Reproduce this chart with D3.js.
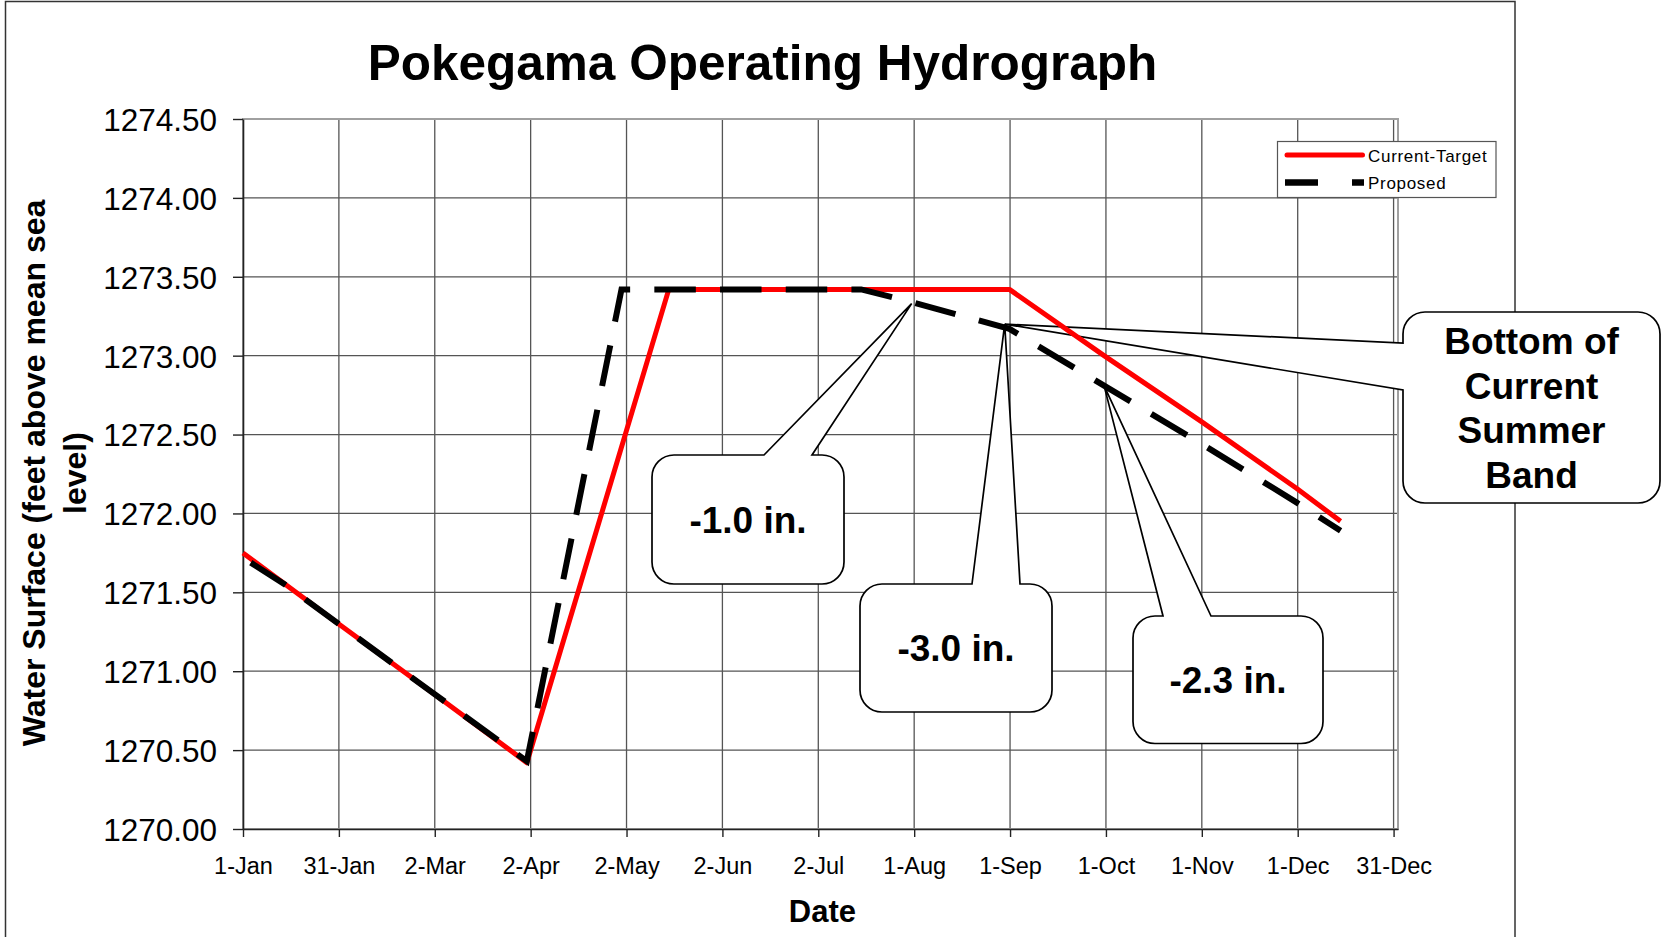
<!DOCTYPE html>
<html><head><meta charset="utf-8">
<script src="https://cdn.jsdelivr.net/npm/d3@7"></script>
<style>html,body{margin:0;padding:0;background:#fff;} svg{display:block;font-family:"Liberation Sans",Arial,Helvetica,sans-serif;}</style>
</head><body>
<svg id="chart" width="1665" height="937"></svg>
<script>
// ---------------- data ----------------
const chartTitle = "Pokegama Operating Hydrograph";
const xAxisTitle = "Date";
const yAxisTitleLines = ["Water Surface (feet above mean sea", "level)"];
const seriesNames = ["Current-Target", "Proposed"];

const currentDates  = ["2007-01-01","2007-02-01","2007-03-01","2007-04-01","2007-05-16","2007-09-01","2007-10-01","2007-11-01","2007-12-01","2007-12-15"];
const currentValues = [1271.75, 1271.29, 1270.88, 1270.42, 1273.42, 1273.42, 1273.00, 1272.58, 1272.16, 1271.95];

const proposedDates  = ["2007-01-01","2007-01-15","2007-02-01","2007-03-01","2007-04-01","2007-05-01","2007-07-16","2007-08-01","2007-09-01","2007-10-01","2007-11-01","2007-12-01","2007-12-15"];
const proposedValues = [1271.72, 1271.54, 1271.29, 1270.88, 1270.43, 1273.42, 1273.42, 1273.34, 1273.17, 1272.81, 1272.44, 1272.07, 1271.89];

const xTickLabels = ["1-Jan","31-Jan","2-Mar","2-Apr","2-May","2-Jun","2-Jul","1-Aug","1-Sep","1-Oct","1-Nov","1-Dec","31-Dec"];
const yTickValues = [1270.00,1270.50,1271.00,1271.50,1272.00,1272.50,1273.00,1273.50,1274.00,1274.50];

const calloutTexts = [["-1.0 in."],["-3.0 in."],["-2.3 in."],["Bottom of","Current","Summer","Band"]];
const calloutTipDates  = ["2007-08-01T00:00:00Z","2007-08-30T12:00:00Z","2007-10-01T00:00:00Z","2007-08-30T12:00:00Z"];
const calloutTipValues = [1273.33, 1273.20, 1272.81, 1273.20];

// ---------------- layout ----------------
const DAY = 864e5;
const yearStart = Date.UTC(2007,0,1);
const tickStepDays = 30.4;
const plot = {left:243, right:1398, top:119, bottom:829};
const FONT = '"Liberation Sans",Arial,Helvetica,sans-serif';

const svg = d3.select("#chart");
svg.append("rect").attr("width",1665).attr("height",937).attr("fill","#fff");

const x = d3.scaleUtc()
  .domain([new Date(yearStart), new Date(yearStart + 366.2*DAY)])
  .range([plot.left, plot.right]);
const y = d3.scaleLinear().domain([1270, 1274.5]).range([plot.bottom, plot.top]);
const xTickDates = xTickLabels.map((_, i) => new Date(yearStart + i*tickStepDays*DAY));

// outer chart border
svg.append("rect").attr("x",5.5).attr("y",1.5).attr("width",1509.5).attr("height",970)
  .attr("fill","none").attr("stroke","#333").attr("stroke-width",1.5);

// gridlines
const grid = svg.append("g");
grid.selectAll("line.h").data(yTickValues).join("line").attr("class","h")
  .attr("x1",plot.left).attr("x2",plot.right)
  .attr("y1",d=>y(d)).attr("y2",d=>y(d))
  .attr("stroke","#555").attr("stroke-width",1.3);
grid.selectAll("line.v").data(xTickDates).join("line").attr("class","v")
  .attr("x1",d=>x(d)).attr("x2",d=>x(d))
  .attr("y1",plot.top).attr("y2",plot.bottom)
  .attr("stroke","#555").attr("stroke-width",1.3);
// plot area border
svg.append("rect").attr("x",plot.left).attr("y",plot.top)
  .attr("width",plot.right-plot.left).attr("height",plot.bottom-plot.top)
  .attr("fill","none").attr("stroke","#a0a0a0").attr("stroke-width",2);

// axes
const yAxis = svg.append("g").attr("transform",`translate(${plot.left},0)`)
  .call(d3.axisLeft(y).tickValues(yTickValues).tickFormat(d3.format(".2f")).tickSize(10).tickSizeOuter(0).tickPadding(16));
yAxis.selectAll("text").attr("font-family",FONT).attr("font-size",31.5).attr("fill","#000").attr("dy","0.36em");
yAxis.selectAll("line").attr("stroke","#222").attr("stroke-width",1.4);
yAxis.select(".domain").attr("stroke","#222").attr("stroke-width",1.6);

const xAxis = svg.append("g").attr("transform",`translate(0,${plot.bottom})`)
  .call(d3.axisBottom(x).tickValues(xTickDates).tickFormat((d,i)=>xTickLabels[i]).tickSize(8).tickSizeOuter(0));
xAxis.selectAll("text").attr("font-family",FONT).attr("font-size",23.5).attr("fill","#000")
  .attr("y",45).attr("dy","0");
xAxis.selectAll("line").attr("stroke","#222").attr("stroke-width",1.4);
xAxis.select(".domain").attr("stroke","#222").attr("stroke-width",1.6);

// callouts (annotation boxes)
const calloutBoxes = [
  {x0:652, y0:455, x1:844, y1:584, side:"top", a:764, b:812},
  {x0:860, y0:584, x1:1052, y1:712, side:"top", a:972, b:1020},
  {x0:1133, y0:616, x1:1323, y1:743.5, side:"top", a:1163, b:1211},
  {x0:1403, y0:312, x1:1660, y1:503, side:"left", a:343, b:390}
];
function calloutPath(bx, tx, ty){
  const r = 22, {x0,y0,x1,y1} = bx;
  const p = d3.path();
  p.moveTo(x0+r, y0);
  if (bx.side==="top"){ p.lineTo(bx.a,y0); p.lineTo(tx,ty); p.lineTo(bx.b,y0); }
  p.lineTo(x1-r, y0);
  p.arcTo(x1, y0, x1, y0+r, r);
  p.lineTo(x1, y1-r);
  p.arcTo(x1, y1, x1-r, y1, r);
  p.lineTo(x0+r, y1);
  p.arcTo(x0, y1, x0, y1-r, r);
  if (bx.side==="left"){ p.lineTo(x0,bx.b); p.lineTo(tx,ty); p.lineTo(x0,bx.a); }
  p.lineTo(x0, y0+r);
  p.arcTo(x0, y0, x0+r, y0, r);
  p.closePath();
  return p.toString();
}
const callouts = svg.append("g");
calloutBoxes.forEach((bx,i)=>{
  const tx = x(d3.isoParse(calloutTipDates[i])), ty = y(calloutTipValues[i]);
  callouts.append("path").attr("d",calloutPath(bx,tx,ty))
    .attr("fill","#fff").attr("stroke","#000").attr("stroke-width",1.7).attr("stroke-linejoin","miter");
});

// series
const parse = d3.isoParse;
const currentData = currentDates.map((d,i)=>({date:parse(d), value:currentValues[i]}));
const proposedData = proposedDates.map((d,i)=>({date:parse(d), value:proposedValues[i]}));
const line = d3.line().x(d=>x(d.date)).y(d=>y(d.value));

svg.append("path").datum(currentData).attr("d",line)
  .attr("fill","none").attr("stroke","#ff0000").attr("stroke-width",5).attr("stroke-linejoin","round");

// dash phase: align a dash start at a chosen date on the summer plateau
const dashPattern = [41.5, 24.2];
const period = dashPattern[0]+dashPattern[1];
const phaseDate = parse("2007-05-11T10:00:00Z");
let cum = 0, phaseLen = 0;
const pts = proposedData.map(d=>[x(d.date), y(d.value)]);
for (let i=1;i<pts.length;i++){
  const seg = Math.hypot(pts[i][0]-pts[i-1][0], pts[i][1]-pts[i-1][1]);
  if (x(phaseDate) <= pts[i][0] && x(phaseDate) >= pts[i-1][0]) {
    phaseLen = cum + seg*(x(phaseDate)-pts[i-1][0])/(pts[i][0]-pts[i-1][0]);
  }
  cum += seg;
}
const dashOffset = (period - (phaseLen % period)) % period;
svg.append("path").datum(proposedData).attr("d",line)
  .attr("fill","none").attr("stroke","#000").attr("stroke-width",6)
  .attr("stroke-dasharray",dashPattern.join(",")).attr("stroke-dashoffset",dashOffset)
  .attr("stroke-linejoin","miter");

// callout texts
calloutBoxes.forEach((bx,i)=>{
  const lines = calloutTexts[i];
  const cx = (bx.x0+bx.x1)/2, cy = (bx.y0+bx.y1)/2;
  const lh = 44.5;
  lines.forEach((t,j)=>{
    svg.append("text").attr("x",cx).attr("y",cy + (j-(lines.length-1)/2)*lh)
      .attr("dy","0.36em").attr("text-anchor","middle")
      .attr("font-family",FONT).attr("font-weight","bold").attr("font-size",37).attr("fill","#000")
      .text(t);
  });
});

// legend
const lg = svg.append("g");
lg.append("rect").attr("x",1277.5).attr("y",141.5).attr("width",218.5).attr("height",56)
  .attr("fill","#fff").attr("stroke","#555").attr("stroke-width",1.2);
lg.append("line").attr("x1",1287).attr("x2",1362.5).attr("y1",155).attr("y2",155)
  .attr("stroke","#ff0000").attr("stroke-width",5).attr("stroke-linecap","round");
lg.append("line").attr("x1",1285).attr("x2",1364).attr("y1",182.5).attr("y2",182.5)
  .attr("stroke","#000").attr("stroke-width",6.3).attr("stroke-dasharray","33,34,12");
lg.selectAll("text").data(seriesNames).join("text")
  .attr("x",1368).attr("y",(d,i)=>161.5+i*27.8)
  .attr("font-family",FONT).attr("font-size",17).attr("letter-spacing","0.7px").attr("fill","#000")
  .text(d=>d);

// titles
svg.append("text").attr("x",762.5).attr("y",80).attr("text-anchor","middle")
  .attr("font-family",FONT).attr("font-weight","bold").attr("font-size",49.5).attr("fill","#000")
  .text(chartTitle);
svg.append("text").attr("x",822.4).attr("y",922).attr("text-anchor","middle")
  .attr("font-family",FONT).attr("font-weight","bold").attr("font-size",31).attr("fill","#000")
  .text(xAxisTitle);
yAxisTitleLines.forEach((t,i)=>{
  svg.append("text").attr("transform",`translate(${44.6+i*41.4},473) rotate(-90)`)
    .attr("text-anchor","middle")
    .attr("font-family",FONT).attr("font-weight","bold").attr("font-size",32).attr("fill","#000")
    .text(t);
});
</script>
</body></html>
